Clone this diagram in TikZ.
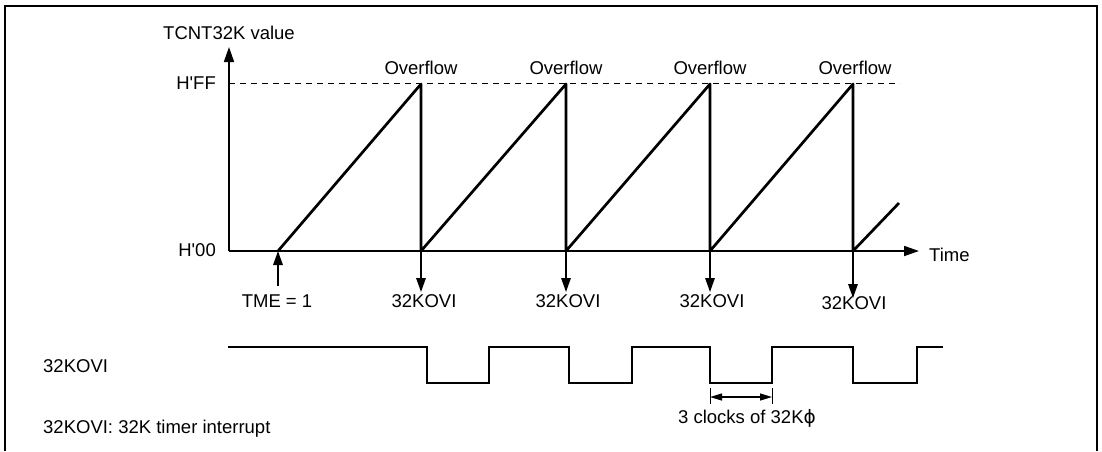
\documentclass[tikz,border=0pt]{standalone}
\usepackage{fontspec}
\setmainfont{Liberation Sans}
\newfontfamily\dejavu{DejaVu Sans}
\usetikzlibrary{arrows.meta}
\begin{document}
\begin{tikzpicture}[x=1pt,y=-1pt,
  lbl/.style={inner sep=0pt,font=\fontsize{18.5}{22}\selectfont},
  axisline/.style={line width=1.7pt},
  rampline/.style={line width=2.7pt,line join=round},
  arr/.style={line width=1.5pt,-{Triangle[length=14pt,width=9.5pt]}},
  sigline/.style={line width=2.3pt},
  frameline/.style={line width=2.8pt},
  dimarr/.style={line width=1.3pt,{Triangle[length=12pt,width=7pt]}-{Triangle[length=12pt,width=7pt]}}
]
\useasboundingbox (0,0) rectangle (1102,451);
% frame
\coordinate (f1) at (5,451);
\coordinate (f2) at (5,6);
\coordinate (f3) at (1097,6);
\coordinate (f4) at (1097,451);
\draw[frameline] (f1) -- (f2) -- (f3) -- (f4);

% axes
\coordinate (O) at (229,251);
\coordinate (Ytop) at (229,47);
\coordinate (Tend) at (919,251);
\draw[axisline,-{Triangle[length=15pt,width=10pt]}] (O) -- (Ytop);
\draw[axisline,-{Triangle[length=15pt,width=10pt]}] (O) -- (Tend);
\node[lbl] (ylab) at (229,33) {TCNT32K value};
\node[lbl,anchor=west] (tlab) at (929,255) {Time};
\node[lbl,anchor=east] (hff) at (216,83) {H\textquotesingle FF};
\node[lbl,anchor=east] (h00) at (216,250) {H\textquotesingle 00};

% dashed H'FF line
\coordinate (d0) at (229,83.5);
\coordinate (d1) at (900,83.5);
\draw[line width=1pt,dash pattern=on 6pt off 5pt] (d0) -- (d1);

% sawtooth
\coordinate (s0) at (278,251);
\coordinate (p1) at (421,84);
\coordinate (b1) at (421,251);
\coordinate (p2) at (566,84);
\coordinate (b2) at (566,251);
\coordinate (p3) at (710,84);
\coordinate (b3) at (710,251);
\coordinate (p4) at (853,84);
\coordinate (b4) at (853,251);
\coordinate (e) at (899,203);
\draw[rampline] (s0) -- (p1) -- (b1) -- (p2) -- (b2) -- (p3) -- (b3) -- (p4) -- (b4) -- (e);

% overflow labels
\node[lbl] (ov1) at (421,68) {Overflow};
\node[lbl] (ov2) at (566,68) {Overflow};
\node[lbl] (ov3) at (710,68) {Overflow};
\node[lbl] (ov4) at (855,68) {Overflow};

% TME arrow
\coordinate (tmeb) at (278,286);
\draw[arr] (tmeb) -- (s0);
\node[lbl] (tme) at (277,301) {TME = 1};

% interrupt arrows
\coordinate (k1) at (421,292);
\coordinate (k2) at (566,292);
\coordinate (k3) at (710,292);
\coordinate (k4) at (853,298);
\draw[arr] (b1) -- (k1);
\draw[arr] (b2) -- (k2);
\draw[arr] (b3) -- (k3);
\draw[arr] (b4) -- (k4);
\node[lbl] (i1) at (424,301) {32KOVI};
\node[lbl] (i2) at (568,301) {32KOVI};
\node[lbl] (i3) at (712,301) {32KOVI};
\node[lbl] (i4) at (854,303) {32KOVI};

% signal
\node[lbl,anchor=west] (siglab) at (43,366) {32KOVI};
\draw[sigline] (228,347) -- (427,347) -- (427,383) -- (489,383) -- (489,347)
  -- (569,347) -- (569,383) -- (632,383) -- (632,347)
  -- (710,347) -- (710,383) -- (772,383) -- (772,347)
  -- (853,347) -- (853,383) -- (917,383) -- (917,347) -- (943,347);

% dimension
\coordinate (ta) at (710,388);
\coordinate (tb) at (710,404);
\coordinate (tc) at (772,388);
\coordinate (td) at (772,404);
\coordinate (da) at (710,397);
\coordinate (db) at (772,397);
\draw[line width=1pt] (ta) -- (tb);
\draw[line width=1pt] (tc) -- (td);
\draw[dimarr] (da) -- (db);
\node[lbl] (clk) at (747,418) {3 clocks of 32K{\dejavu ϕ}};

\node[lbl,anchor=west] (note) at (43,429) {32KOVI: 32K timer interrupt};
\end{tikzpicture}
\end{document}
